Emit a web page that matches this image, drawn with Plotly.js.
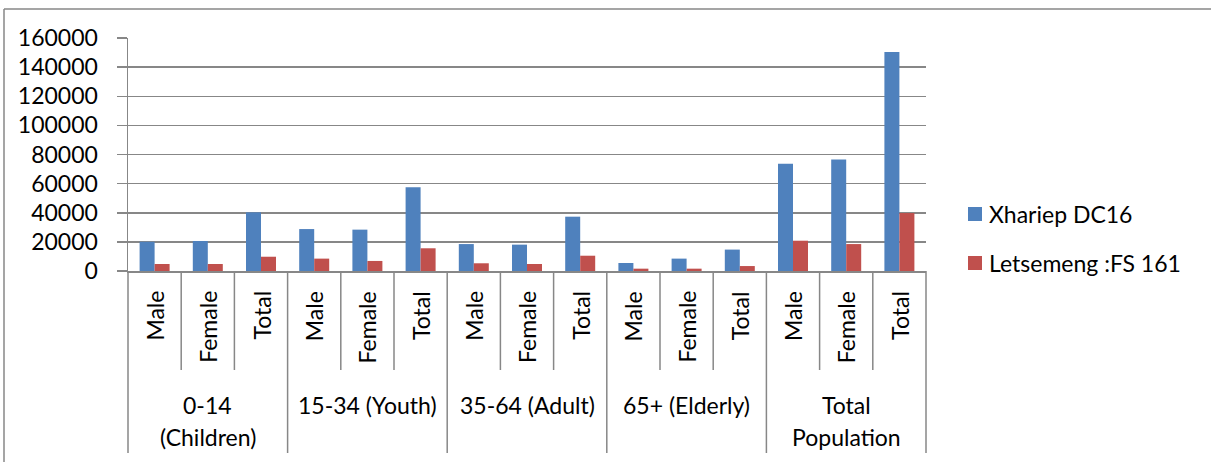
<!DOCTYPE html>
<html><head><meta charset="utf-8">
<script src="https://cdn.plot.ly/plotly-3.0.1.min.js"></script>
<style>html,body{margin:0;padding:0;background:#fff;} #chart{width:1211px;height:462px;}</style>
</head><body><div id="chart"></div>
<script>
// ---- data ----
const groups = ['0-14 (Children)', '15-34 (Youth)', '35-64 (Adult)', '65+ (Elderly)', 'Total Population'];
const groupLabelLines = [['0-14', '(Children)'], ['15-34 (Youth)'], ['35-64 (Adult)'], ['65+ (Elderly)'], ['Total', 'Population']];
const subCategories = ['Male', 'Female', 'Total'];
const seriesNames = ['Xhariep DC16', 'Letsemeng :FS 161'];
const xhariepValues = [20100, 20600, 40300, 28800, 28400, 57500, 18500, 18100, 37300, 5500, 8500, 14700, 73700, 76500, 150400];
const letsemengValues = [4800, 4800, 9800, 8500, 6900, 15600, 5300, 4800, 10500, 1600, 1600, 3400, 20800, 18500, 39800];

// ---- style ----
const colors = ['#4F81BD', '#C0504D'];
const gridColor = '#878787';
const FONT = 'Lato, "Liberation Sans", sans-serif';
const FS = 23;

// plot-area geometry in pixels
const W_PX = 1211, H_PX = 462;
const L = 128, R = 926, T = 38, B = 271;
const PW = R - L, PH = B - T;
const px = v => (v - L) / PW;
const py = v => (B - v) / PH;

const xGroup = [], xSub = [];
groups.forEach(g => subCategories.forEach(s => { xGroup.push(g); xSub.push(s); }));
const n = xSub.length;

const traces = [xhariepValues, letsemengValues].map((vals, k) => ({
  type: 'bar',
  name: seriesNames[k],
  x: [xGroup, xSub],
  y: vals,
  marker: {color: colors[k], line: {width: 0}},
  hoverinfo: 'y'
}));

const shapes = [];
const annotations = [];
const line = (x0, y0, x1, y1, w) => ({type: 'line', xref: 'paper', yref: 'paper', x0, y0, x1, y1,
  line: {color: gridColor, width: w || 1.5}, layer: 'above'});

// category dividers below the axis
for (let i = 0; i <= n; i++) {
  const isGroupEdge = (i % subCategories.length === 0);
  shapes.push(line(i / n, 0, i / n, py(isGroupEdge ? 453 : 370)));
}
// outer frame (top and left)
shapes.push(line(px(4), py(9), px(W_PX + 5), py(9), 1.5));
shapes.push(line(px(4), py(9), px(4), py(H_PX + 5), 1.5));

// sub-category labels (rotated)
xSub.forEach((s, i) => {
  annotations.push({xref: 'paper', yref: 'paper', x: (i + 0.5) / n, y: 0, yshift: -(289 - B),
    xanchor: 'center', yanchor: 'top', textangle: -90, text: s, showarrow: false,
    font: {family: FONT, size: FS, color: '#000'}});
});
// group labels
groupLabelLines.forEach((lines, g) => {
  const cx = (g * subCategories.length + subCategories.length / 2) / n;
  lines.forEach((t, k) => {
    annotations.push({xref: 'paper', yref: 'paper', x: cx, y: py(405 + 32 * k),
      xanchor: 'center', yanchor: 'middle', text: t, showarrow: false,
      font: {family: FONT, size: FS, color: '#000'}});
  });
});
// legend
const legendY = [214, 263];
seriesNames.forEach((name, k) => {
  shapes.push({type: 'rect', xref: 'paper', yref: 'paper',
    x0: px(968), x1: px(982), y0: py(legendY[k] - 7), y1: py(legendY[k] + 7),
    fillcolor: colors[k], line: {width: 0}});
  annotations.push({xref: 'paper', yref: 'paper', x: px(987), y: py(legendY[k]),
    xanchor: 'left', yanchor: 'middle', text: name, showarrow: false,
    font: {family: FONT, size: FS, color: '#000'}});
});

const layout = {
  width: W_PX, height: H_PX,
  margin: {l: L, r: W_PX - R, t: T, b: H_PX - B, pad: 0},
  paper_bgcolor: '#fff', plot_bgcolor: '#fff',
  font: {family: FONT, size: FS, color: '#000'},
  showlegend: false,
  barmode: 'group', bargap: 0.436, bargroupgap: 0,
  xaxis: {type: 'multicategory', showticklabels: false, ticks: '', showgrid: false,
    showdividers: false, showline: true, linecolor: gridColor, linewidth: 1.5, zeroline: false,
    fixedrange: true},
  yaxis: {range: [0, 160000], dtick: 20000, tick0: 0, tickformat: 'd',
    ticks: 'outside', ticklen: 10, tickwidth: 1.5, tickcolor: gridColor,
    showgrid: true, gridcolor: gridColor, gridwidth: 1.5,
    showline: true, linecolor: gridColor, linewidth: 1.5, zeroline: false,
    ticklabelstandoff: 14,
    tickfont: {family: FONT, size: FS, color: '#000'}, fixedrange: true},
  shapes, annotations
};

Plotly.newPlot('chart', traces, layout, {displayModeBar: false, staticPlot: true});
</script>
</body></html>
